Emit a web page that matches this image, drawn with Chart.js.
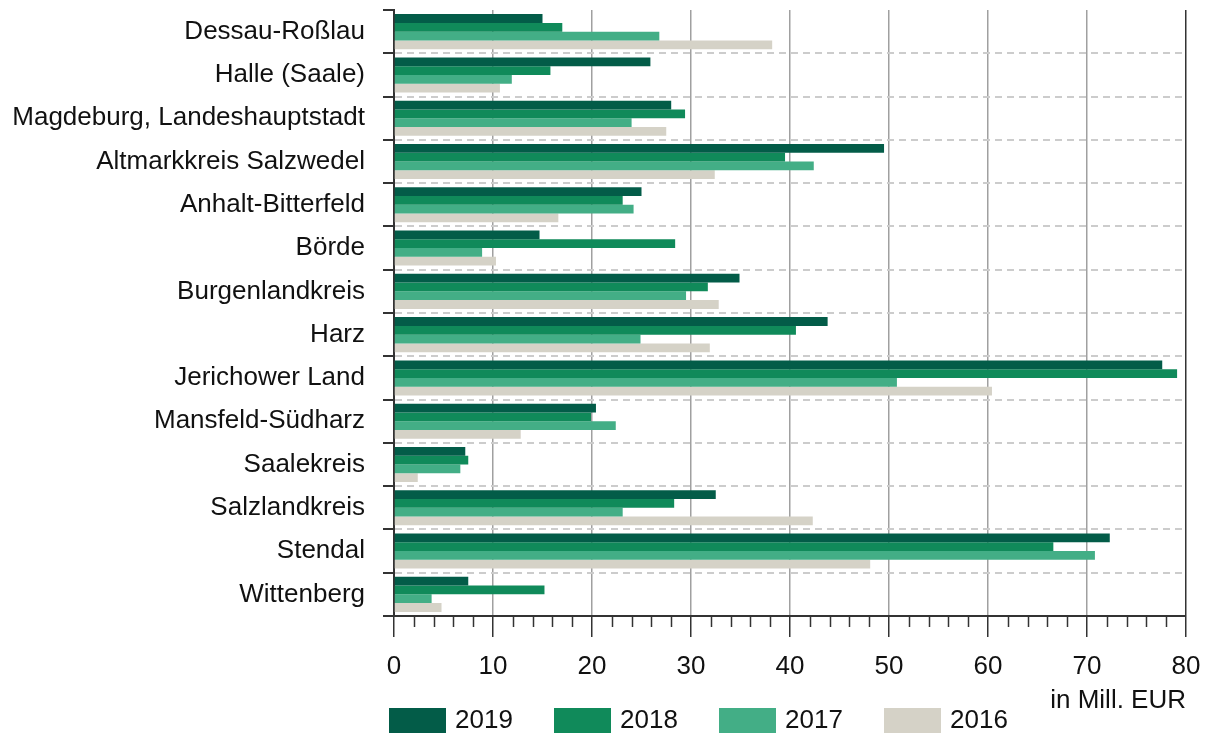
<!DOCTYPE html>
<html>
<head>
<meta charset="utf-8">
<script src="https://cdn.jsdelivr.net/npm/chart.js@4/dist/chart.umd.min.js"></script>
<style>
  html, body { margin: 0; padding: 0; background: #fff; }
  #wrap { width: 1210px; height: 733px; position: relative; }
</style>
</head>
<body>
<div id="wrap"><canvas id="myChart"></canvas></div>
<script>
// ==========
// CHART DATA
// ==========
const districts = [
    "Dessau-Roßlau", "Halle (Saale)", "Magdeburg, Landeshauptstadt", "Altmarkkreis Salzwedel",
    "Anhalt-Bitterfeld", "Börde", "Burgenlandkreis", "Harz", "Jerichower Land",
    "Mansfeld-Südharz", "Saalekreis", "Salzlandkreis", "Stendal", "Wittenberg"
];
const years = ["2019", "2018", "2017", "2016"];

// values in Mill. EUR
const values2019 = [15.0, 25.9, 28.0, 49.5, 25.0, 14.7, 34.9, 43.8, 77.6, 20.4, 7.2, 32.5, 72.3, 7.5];
const values2018 = [17.0, 15.8, 29.4, 39.5, 23.1, 28.4, 31.7, 40.6, 79.1, 19.9, 7.5, 28.3, 66.6, 15.2];
const values2017 = [26.8, 11.9, 24.0, 42.4, 24.2, 8.9, 29.5, 24.9, 50.8, 22.4, 6.7, 23.1, 70.8, 3.8];
const values2016 = [38.2, 10.7, 27.5, 32.4, 16.6, 10.3, 32.8, 31.9, 60.4, 12.8, 2.4, 42.3, 48.1, 4.8];

const xTicks = [0, 10, 20, 30, 40, 50, 60, 70, 80];
const axisTitle = "in Mill. EUR";

// colours per year
const colours = ["#035c48", "#108a5a", "#43ae86", "#d5d2c7"];

const FONT = "'Liberation Sans', Arial, sans-serif";
const FONT_SIZE = 26;
const INK = "#111111";
const AXIS = "#333333";

// =======
// PLUGINS
// =======

// small ticks every 2 units under the x axis
const minorTicks = {
    id: "minorTicks",
    afterDraw(chart) {
        const x = chart.scales.x;
        const ctx = chart.ctx;
        ctx.save();
        ctx.strokeStyle = AXIS;
        ctx.lineWidth = 1.5;
        for (let v = xTicks[0]; v <= xTicks[xTicks.length - 1]; v += 2) {
            if (v % 10 === 0) continue;
            const px = Math.round(x.getPixelForValue(v)) + 0.5;
            ctx.beginPath();
            ctx.moveTo(px, x.top);
            ctx.lineTo(px, x.top + 11);
            ctx.stroke();
        }
        ctx.restore();
    }
};

// legend row at the bottom (boxes + year text)
const bottomLegend = {
    id: "bottomLegend",
    afterDraw(chart) {
        const ctx = chart.ctx;
        ctx.save();
        ctx.font = FONT_SIZE + "px " + FONT;
        ctx.textBaseline = "middle";
        ctx.textAlign = "left";
        chart.data.datasets.forEach((ds, i) => {
            const left = 389 + i * 165;
            ctx.fillStyle = ds.backgroundColor;
            ctx.fillRect(left, 708, 57, 26);
            ctx.fillStyle = INK;
            ctx.fillText(ds.label, left + 66, 721);
        });
        ctx.restore();
    }
};

// =====
// CHART
// =====
const ctx = document.getElementById("myChart");

const data = {
    labels: districts,
    datasets: [
        { label: years[0], data: values2019, backgroundColor: colours[0] },
        { label: years[1], data: values2018, backgroundColor: colours[1] },
        { label: years[2], data: values2017, backgroundColor: colours[2] },
        { label: years[3], data: values2016, backgroundColor: colours[3] }
    ]
};

const myChart = new Chart(ctx, {
    type: "bar",
    data: data,
    plugins: [minorTicks, bottomLegend],
    options: {
        indexAxis: "y",
        responsive: true,
        maintainAspectRatio: false,
        animation: false,
        datasets: {
            bar: {
                categoryPercentage: 0.81,
                barPercentage: 1.0,
                borderWidth: 0
            }
        },
        layout: { padding: { top: 10, right: 24, bottom: 0, left: 0 } },
        plugins: {
            legend: { display: false },
            tooltip: { enabled: false }
        },
        scales: {
            x: {
                type: "linear",
                position: "bottom",
                min: xTicks[0],
                max: xTicks[xTicks.length - 1],
                afterBuildTicks: (scale) => { scale.ticks = xTicks.map(v => ({ value: v })); },
                afterFit: (scale) => {
                    scale.height = 117;
                    scale.paddingLeft = 0;
                    scale.paddingRight = 0;
                },
                grid: {
                    color: (c) => (c.tick && c.tick.value === 80) ? AXIS : "#a0a0a0",
                    lineWidth: 1.5,
                    tickLength: 21,
                    tickColor: AXIS,
                    tickWidth: 1.5
                },
                border: { color: AXIS, width: 2 },
                ticks: {
                    color: INK,
                    padding: 14,
                    font: { family: FONT, size: FONT_SIZE }
                },
                title: {
                    display: true,
                    text: axisTitle,
                    align: "end",
                    color: INK,
                    font: { family: FONT, size: FONT_SIZE },
                    padding: { top: 0, bottom: 17 }
                }
            },
            y: {
                type: "category",
                position: "left",
                afterFit: (scale) => {
                    scale.width = 394;
                    scale.paddingTop = 0;
                    scale.paddingBottom = 0;
                },
                grid: {
                    offset: true,
                    color: (c) => (c.index > 0 && c.index < districts.length) ? "#cccccc" : "rgba(0,0,0,0)",
                    lineWidth: 2,
                    tickLength: 11,
                    tickColor: AXIS,
                    tickWidth: 2
                },
                border: { color: AXIS, width: 2, dash: [7, 5] },
                ticks: {
                    color: INK,
                    padding: 18,
                    autoSkip: false,
                    font: { family: FONT, size: FONT_SIZE }
                }
            }
        }
    }
});
</script>
</body>
</html>
